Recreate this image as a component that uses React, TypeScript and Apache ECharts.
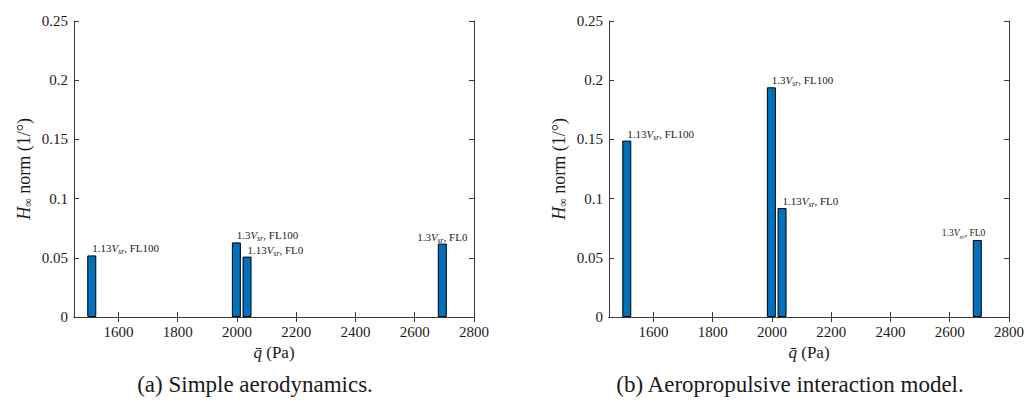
import React, { useEffect, useRef } from "react";
import * as echarts from "echarts";

// ---- data ----
const qBar = [1510, 1998, 2034, 2693]; // dynamic pressure (Pa)
const hSimple = [0.052, 0.063, 0.051, 0.062];
const hAeroprop = [0.149, 0.194, 0.092, 0.065];
const caseSpeed = ["1.13", "1.3", "1.13", "1.3"];
const caseFL = ["FL100", "FL100", "FL0", "FL0"];
const xTicks = [1600, 1800, 2000, 2200, 2400, 2600, 2800];
const yTicks = [0, 0.05, 0.1, 0.15, 0.2, 0.25];
const xRange = [1450, 2800];
const yRange = [0, 0.25];
const captions = ["(a) Simple aerodynamics.", "(b) Aeropropulsive interaction model."];

// ---- style ----
const FONT = "Liberation Serif";
const AXIS = "#3a3a3a";
const TXT = "#1a1a1a";
const BAR = "#0072BD";
const labelLeft = [
  { dx: 5, align: "left", fs: 11 },
  { dx: 5, align: "left", fs: 11 },
  { dx: 5, align: "left", fs: 11 },
  { dx: 4.5, align: "center", fs: 11 },
];
const labelRight = [
  { dx: 5, align: "left", fs: 11 },
  { dx: 5, align: "left", fs: 11 },
  { dx: 5, align: "left", fs: 11 },
  { dx: 12.5, align: "right", fs: 9.5 },
];

function richFor(fs: number) {
  return {
    n: { fontFamily: FONT, fontSize: fs, color: TXT, lineHeight: fs + 4 },
    v: { fontFamily: FONT, fontSize: fs, fontStyle: "italic", color: TXT, lineHeight: fs + 4 },
    s: {
      fontFamily: FONT,
      fontSize: fs * 0.7,
      fontStyle: "italic",
      color: TXT,
      verticalAlign: "bottom",
      lineHeight: fs * 0.7,
    },
  };
}

function makeSeries(values: number[], idx: number, place: any[]) {
  return {
    type: "bar",
    xAxisIndex: idx * 2,
    yAxisIndex: idx * 2,
    barWidth: 9,
    itemStyle: { color: BAR, borderColor: "#000", borderWidth: 1 },
    data: values.map((v, i) => ({
      value: [qBar[i], v],
      label: {
        show: true,
        position: [place[i].dx, -7],
        align: place[i].align,
        verticalAlign: "middle",
        fontFamily: FONT,
        formatter: `{n|${caseSpeed[i]}}{v|V}{s|sr}{n|, ${caseFL[i]}}`,
        rich: richFor(place[i].fs),
      },
    })),
  };
}

function axesFor(gi: number) {
  const line = { show: true, lineStyle: { color: AXIS, width: 1 } };
  const xMain = {
    type: "value",
    gridIndex: gi,
    min: xRange[0],
    max: xRange[1],
    axisLine: line,
    axisTick: { show: true, inside: true, length: 5, customValues: xTicks, lineStyle: { color: AXIS } },
    axisLabel: {
      customValues: xTicks,
      fontFamily: FONT,
      fontSize: 15,
      color: TXT,
      margin: 7,
      formatter: (v: number) => String(v),
    },
    splitLine: { show: false },
    name: "{i|q\u0304}{n| (Pa)}",
    nameLocation: "middle",
    nameGap: 26,
    nameTextStyle: {
      fontFamily: FONT,
      rich: {
        i: { fontFamily: FONT, fontSize: 17, fontStyle: "italic", color: TXT },
        n: { fontFamily: FONT, fontSize: 17, color: TXT },
      },
    },
  };
  const xTop = {
    type: "value",
    gridIndex: gi,
    position: "top",
    min: xRange[0],
    max: xRange[1],
    axisLine: line,
    axisTick: { show: true, inside: true, length: 5, customValues: xTicks, lineStyle: { color: AXIS } },
    axisLabel: { show: false },
    splitLine: { show: false },
  };
  const yMain = {
    type: "value",
    gridIndex: gi,
    min: yRange[0],
    max: yRange[1],
    axisLine: line,
    axisTick: { show: true, inside: true, length: 5, customValues: yTicks, lineStyle: { color: AXIS } },
    axisLabel: {
      customValues: yTicks,
      fontFamily: FONT,
      fontSize: 15,
      color: TXT,
      margin: 6,
      formatter: (v: number) => String(Math.round(v * 1000) / 1000),
    },
    splitLine: { show: false },
    name: "{i|H}{sub|\u221E}{n| norm (1/\u00B0)}",
    nameLocation: "middle",
    nameGap: 40,
    nameRotate: 90,
    nameTextStyle: {
      fontFamily: FONT,
      rich: {
        i: { fontFamily: FONT, fontSize: 18, fontStyle: "italic", color: TXT, lineHeight: 20 },
        sub: { fontFamily: FONT, fontSize: 12, color: TXT, verticalAlign: "bottom", lineHeight: 11 },
        n: { fontFamily: FONT, fontSize: 18, color: TXT, lineHeight: 20 },
      },
    },
  };
  const yRight = {
    type: "value",
    gridIndex: gi,
    position: "right",
    min: yRange[0],
    max: yRange[1],
    axisLine: line,
    axisTick: { show: true, inside: true, length: 5, customValues: yTicks, lineStyle: { color: AXIS } },
    axisLabel: { show: false },
    splitLine: { show: false },
  };
  return { x: [xMain, xTop], y: [yMain, yRight] };
}

export default function App() {
  const ref = useRef<HTMLDivElement>(null);
  useEffect(() => {
    document.body.style.margin = "0";
    const chart = echarts.init(ref.current!, null, { renderer: "svg" });
    const a0 = axesFor(0);
    const a1 = axesFor(1);
    chart.setOption({
      animation: false,
      backgroundColor: "#fff",
      textStyle: { fontFamily: FONT },
      grid: [
        { left: 74, top: 21, width: 400, height: 296 },
        { left: 609, top: 21, width: 400, height: 296 },
      ],
      xAxis: [...a0.x, ...a1.x],
      yAxis: [...a0.y, ...a1.y],
      series: [makeSeries(hSimple, 0, labelLeft), makeSeries(hAeroprop, 1, labelRight)],
      graphic: [
        {
          type: "text",
          x: 255,
          y: 384,
          style: {
            text: captions[0],
            fontFamily: FONT,
            fontSize: 23,
            fill: TXT,
            align: "center",
            verticalAlign: "middle",
          },
        },
        {
          type: "text",
          x: 790,
          y: 384,
          style: {
            text: captions[1],
            fontFamily: FONT,
            fontSize: 23,
            fill: TXT,
            align: "center",
            verticalAlign: "middle",
          },
        },
      ],
    });
    return () => chart.dispose();
  }, []);
  return <div ref={ref} style={{ width: 1027, height: 412 }} />;
}
